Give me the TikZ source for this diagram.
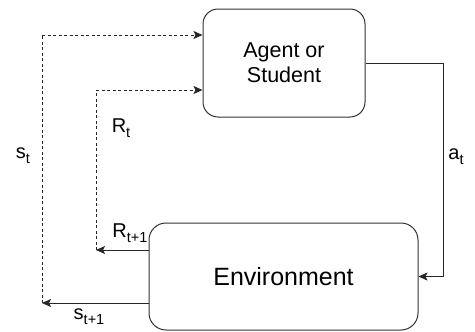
\documentclass[tikz,border=0pt]{standalone}
\usepackage{fontspec}
\setmainfont{Liberation Sans}
\usetikzlibrary{arrows.meta}
\newcommand{\sbs}[1]{\raisebox{-0.5ex}{\fontsize{14.5}{14.5}\selectfont #1}}
\tikzset{
  box/.style={draw=black!80, line width=1pt, rectangle, inner sep=0pt},
  conn/.style={draw=black!85, line width=1pt, -{Stealth[length=9pt,width=8pt,inset=2pt]}},
  dconn/.style={conn, dash pattern=on 3pt off 2.5pt},
  plainline/.style={draw=black!85, line width=1pt, dash pattern=on 3pt off 2.5pt},
  lbl/.style={inner sep=0pt, font=\fontsize{20}{22}\selectfont}
}
\begin{document}
\begin{tikzpicture}[x=1pt,y=-1pt]
\useasboundingbox (0,0) rectangle (475,332);
\node[box, rounded corners=15pt, minimum width=162pt, minimum height=108pt,
      align=center, font=\fontsize{21.5}{25}\selectfont] (agent) at (284,63) {Agent or\\Student};
\node[box, rounded corners=17pt, minimum width=269pt, minimum height=107pt,
      font=\fontsize{25}{28}\selectfont] (env) at (283.5,276.5) {Environment};
% action
\coordinate (ac) at (443,63);
\draw[conn] (agent.east) -- (ac) |- (env.east);
% outer state loop
\coordinate (s1) at (42,303);
\coordinate (s2) at (42,35);
\draw[conn] (env.west |- s1) -- (s1);
\draw[plainline] (s1) -- (s2);
\draw[dconn] (s2) -- (agent.west |- s2);
% inner reward loop
\coordinate (r1) at (96,250);
\coordinate (r2) at (96,90);
\draw[conn] (env.west |- r1) -- (r1);
\draw[plainline] (r1) -- (r2);
\draw[dconn] (r2) -- (agent.west |- r2);
% labels
\node[lbl] (lst) at (23,156) {s\sbs{t}};
\node[lbl] (lrt) at (121,128) {R\sbs{t}};
\node[lbl] (lat) at (456,157) {a\sbs{t}};
\node[lbl] (lrt1) at (130,233) {R\sbs{t+1}};
\node[lbl] (lst1) at (89,317) {s\sbs{t+1}};
\end{tikzpicture}
\end{document}
